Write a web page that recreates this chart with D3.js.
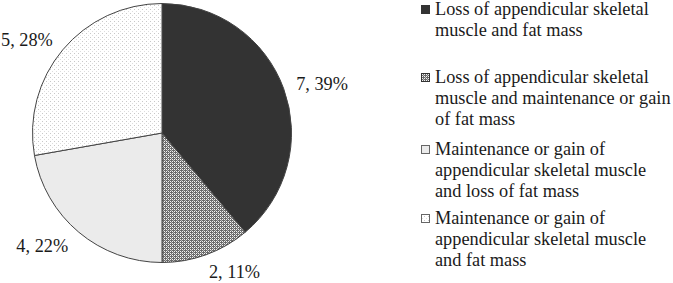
<!DOCTYPE html>
<html lang="en">
    <head>
        <meta charset="utf-8">
        <title>Change in appendicular skeletal muscle and fat mass</title>
        <script type="text/javascript" src="https://d3js.org/d3.v7.min.js"></script>
    <style>
        body { margin: 0; background: white; }
        svg { display: block; }
        text { font-family: "Liberation Serif", "Times New Roman", serif; fill: #1a1a1a; }
    </style>
    </head>
    <body>
        <script type="text/javascript">

        const categories = [
            ["Loss of appendicular skeletal", "muscle and fat mass"],
            ["Loss of appendicular skeletal", "muscle and maintenance or gain", "of fat mass"],
            ["Maintenance or gain of", "appendicular skeletal muscle", "and loss of fat mass"],
            ["Maintenance or gain of", "appendicular skeletal muscle", "and fat mass"]
        ];
        const counts = [7, 2, 4, 5];
        const percents = ["39%", "11%", "22%", "28%"];

        const width = 673;
        const height = 283;
        const cx = 162, cy = 133, radius = 129.5;
        const fontSize = "18.3px";
        const fills = ["#333333", "url(#checks)", "#ebebeb", "url(#dots)"];

        const svg = d3.select("body")
                    .append("svg")
                    .attr("width", width)
                    .attr("height", height);

        // fill patterns
        const defs = svg.append("defs");
        const checks = defs.append("pattern")
            .attr("id", "checks")
            .attr("patternUnits", "userSpaceOnUse")
            .attr("width", 4).attr("height", 4);
        checks.append("rect").attr("width", 4).attr("height", 4).attr("fill", "#6a6a6a");
        [[0, 0], [2, 0], [0, 2], [2, 2]].forEach(p => {
            checks.append("rect").attr("x", p[0]).attr("y", p[1])
                .attr("width", 1).attr("height", 1).attr("fill", "#f4f4f4");
        });
        checks.append("rect").attr("x", 1).attr("y", 1).attr("width", 1).attr("height", 1).attr("fill", "#b8b8b8");
        checks.append("rect").attr("x", 3).attr("y", 3).attr("width", 1).attr("height", 1).attr("fill", "#b8b8b8");

        const dots = defs.append("pattern")
            .attr("id", "dots")
            .attr("patternUnits", "userSpaceOnUse")
            .attr("width", 4).attr("height", 4);
        dots.append("rect").attr("width", 4).attr("height", 4).attr("fill", "#ffffff");
        dots.append("rect").attr("x", 0).attr("y", 0).attr("width", 1).attr("height", 1).attr("fill", "#c8c8c8");
        dots.append("rect").attr("x", 2).attr("y", 2).attr("width", 1).attr("height", 1).attr("fill", "#dddddd");

        const pie = d3.pie().sort(null).value(d => d);
        const arcs = pie(counts);
        const arc = d3.arc().innerRadius(0).outerRadius(radius);
        const labelArc = d3.arc().innerRadius(146).outerRadius(146);

        const g = svg.append("g").attr("transform", "translate(" + cx + "," + cy + ")");

        // slices
        g.selectAll("path")
            .data(arcs)
            .enter()
            .append("path")
            .attr("d", arc)
            .attr("fill", (d, i) => fills[i])
            .attr("stroke", "#444")
            .attr("stroke-width", 1);

        // slice labels (kept inside the left edge)
        g.selectAll("text.lbl")
            .data(arcs)
            .enter()
            .append("text")
            .attr("class", "lbl")
            .attr("y", d => labelArc.centroid(d)[1])
            .attr("dy", "0.4em")
            .attr("text-anchor", "start")
            .style("font-size", fontSize)
            .text((d, i) => counts[i] + ", " + percents[i])
            .attr("x", function(d) {
                const x = labelArc.centroid(d)[0];
                if (x > 0) return x - 3;
                const w = this.getComputedTextLength();
                return Math.max(x - w, 1 - cx);
            });

        // legend
        const legendTop = [15, 83, 155, 224];
        const lineGap = 21;
        const legend = svg.append("g");
        categories.forEach((lines, i) => {
            legend.append("rect")
                .attr("x", 421.5).attr("y", legendTop[i] - 9.5)
                .attr("width", 8).attr("height", 8)
                .attr("fill", fills[i])
                .attr("stroke", i < 2 ? "#333" : "#666")
                .attr("stroke-width", 1);
            legend.append("text")
                .attr("x", 435)
                .attr("y", legendTop[i])
                .style("font-size", fontSize)
                .selectAll("tspan")
                .data(lines)
                .enter()
                .append("tspan")
                .attr("x", 435)
                .attr("dy", (d, j) => j === 0 ? 0 : lineGap)
                .text(d => d);
        });

        </script>
    </body>
</html>
